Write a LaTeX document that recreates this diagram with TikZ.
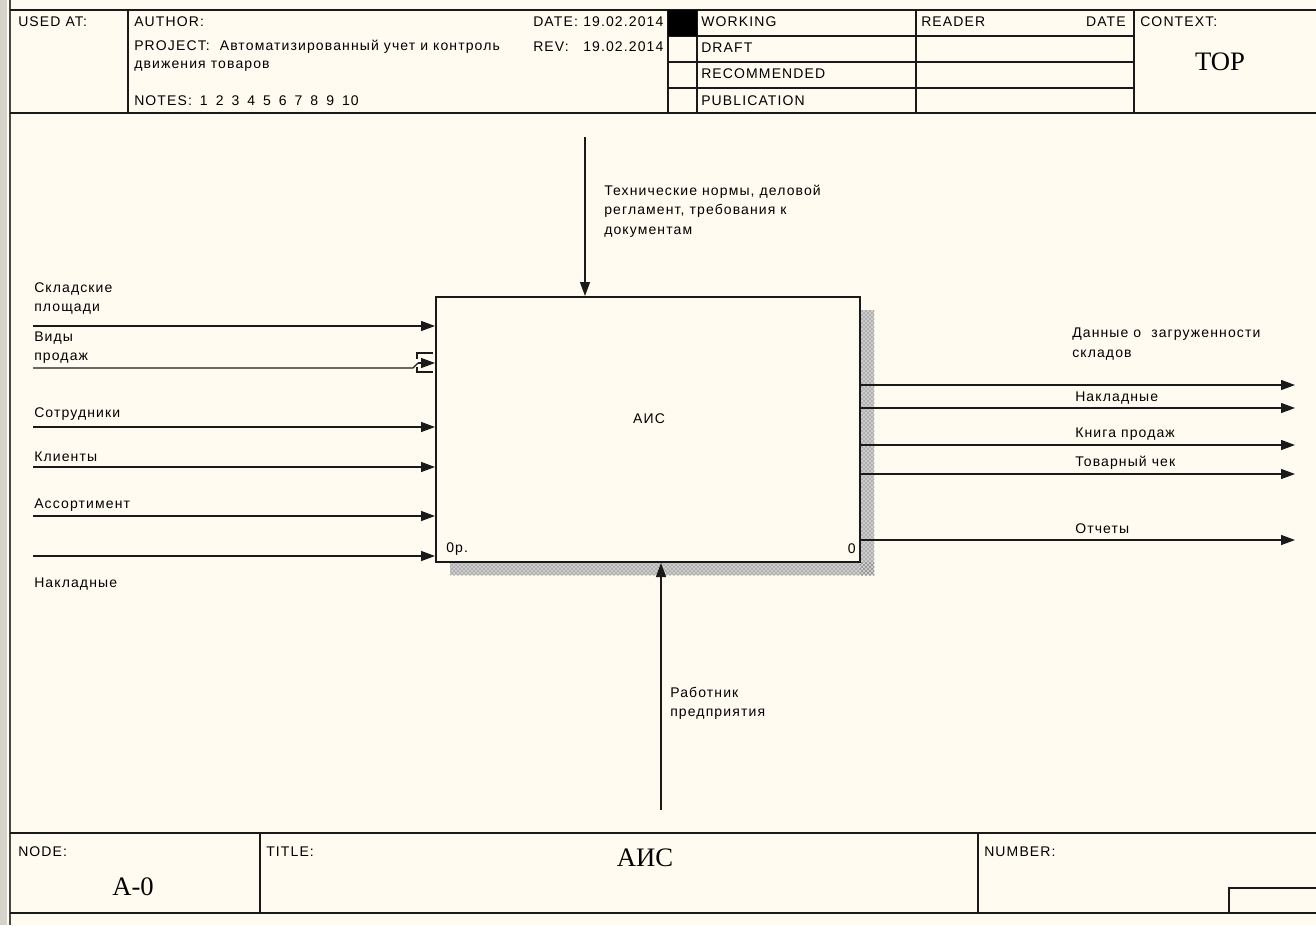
\documentclass[tikz,border=0pt]{standalone}
\usepackage{fontspec}
\setmainfont{Liberation Sans}
\newfontfamily\idefserif{Liberation Serif}
\newfontfamily\idefsans[LetterSpace=8]{Liberation Sans}
\usepackage{xcolor}
\usepackage{tikz}
\usetikzlibrary{arrows.meta, patterns, positioning}
\definecolor{idefPaper}{HTML}{FFFBF0}
\definecolor{idefRim}{HTML}{D6D3CA}
\definecolor{idefInk}{HTML}{1A1A1A}

\begin{document}
\begin{tikzpicture}[x=0.75pt, y=-0.75pt,
    frame/.style={draw=idefInk, line width=1pt},
    txt/.style={inner sep=0pt, anchor=west, align=left,
                font=\idefsans\fontsize{10.5}{14.5}\selectfont},
    big/.style={inner sep=0pt, font=\idefserif\fontsize{20}{24}\selectfont},
    flow/.style={draw=idefInk, line width=1pt, -{Triangle[length=10.5pt, width=7.5pt]}}]
    \useasboundingbox (0,0) rectangle (1316,925);
    % paper and left rim
    \fill[idefPaper] (0,0) rectangle (1316,925);
    \fill[idefRim] (0,0) rectangle (7,925);
    \draw[idefInk!80, line width=1.5pt] (10,0) -- (10,925);

    % header frame
    \draw[frame] (10,10) -- (1316,10);
    \draw[frame] (10,113) -- (1316,113);
    \foreach \x in {128,668,697,916,1134}
        \draw[frame] (\x,10) -- (\x,113);
    \foreach \y in {36,62,88}
        \draw[frame] (668,\y) -- (1134,\y);
    \fill[black] (668,10) rectangle (697,36);

    \node[txt] (usedat) at (18,22) {USED AT:};
    \node[txt] (author) at (134,22) {AUTHOR:};
    \node[txt] (project) at (134,47) {PROJECT:\ \ Автоматизированный учет и контроль};
    \node[txt] (projecttwo) at (134,66) {движения товаров};
    \node[txt] (notes) at (134,101) {NOTES:\hspace{6pt}1\hspace{6pt}2\hspace{6pt}3\hspace{6pt}4\hspace{6pt}5\hspace{6pt}6\hspace{6pt}7\hspace{6pt}8\hspace{6pt}9\hspace{6pt}10};
    \node[txt] (datekey) at (533,22) {DATE:};
    \node[txt] (dateval) at (583,22) {19.02.2014};
    \node[txt] (revkey) at (533,47) {REV:};
    \node[txt] (revval) at (583,47) {19.02.2014};
    \node[txt] (working) at (701,22) {WORKING};
    \node[txt] (draft) at (701,48) {DRAFT};
    \node[txt] (recommended) at (701,74) {RECOMMENDED};
    \node[txt] (publication) at (701,101) {PUBLICATION};
    \node[txt] (reader) at (921,22) {READER};
    \node[txt, anchor=east] (readerdate) at (1126,22) {DATE};
    \node[txt] (context) at (1140,22) {CONTEXT:};
    \node[big] (top) at (1220,62) {TOP};

    % footer frame
    \draw[frame] (10,833) -- (1316,833);
    \draw[frame] (10,913) -- (1316,913);
    \draw[frame] (260,833) -- (260,913);
    \draw[frame] (978,833) -- (978,913);
    \draw[frame] (1229,913) -- (1229,888) -- (1316,888);
    \node[txt] (nodekey) at (18,852) {NODE:};
    \node[txt] (titlekey) at (266,852) {TITLE:};
    \node[txt] (numberkey) at (984,852) {NUMBER:};
    \node[big] (nodeval) at (133,887) {А-0};
    \node[big] (titleval) at (645,858) {АИС};

    % activity box with shadow
    \fill[gray!40] (860,310) rectangle (874,575) (450,562) rectangle (874,575);
    \fill[pattern=crosshatch dots, pattern color=idefInk!75] (860,310) rectangle (874,575);
    \fill[pattern=crosshatch dots, pattern color=idefInk!75] (450,562) rectangle (874,575);
    \node[draw=idefInk, line width=1.5pt, minimum width=318pt, minimum height=198.75pt,
          inner sep=0pt] (ais) at (648,429.5) {};
    \node[txt, anchor=center] (aislbl) at (649,419) {АИС};
    \node[txt] (cost) at (446,549) {0р.};
    \node[txt, anchor=east] (boxno) at (856,549) {0};

    % inputs
    \foreach \name/\y in {inone/326, inthree/427, infour/467, infive/516, insix/556} {
        \coordinate (\name) at (33,\y);
        \draw[flow] (\name) -- (\name -| ais.west);
    }
    \coordinate (intwo) at (33,368);
    \coordinate (intwobend) at (413,368);
    \coordinate (intwotun) at (418,363);
    \draw[idefInk, line width=1pt] (intwo) -- (intwobend) -- (intwotun);
    \draw[flow] (intwotun) -- (intwotun -| ais.west);
    \draw[idefInk, line width=0.8pt] (417,359) -- (417,353) -- (433,353);
    \draw[idefInk, line width=0.8pt] (417,367) -- (417,372) -- (433,372);

    \node[txt] (lblone) at (34,298.5) {Складские\\площади};
    \node[txt] (lbltwo) at (34,347.5) {Виды\\продаж};
    \node[txt] (lblthree) at (34,414) {Сотрудники};
    \node[txt] (lblfour) at (34,457) {Клиенты};
    \node[txt] (lblfive) at (34,505) {Ассортимент};
    \node[txt] (lblsix) at (34,584) {Накладные};

    % outputs
    \foreach \name/\y in {outone/385, outtwo/408, outthree/445, outfour/474, outfive/540} {
        \coordinate (\name) at (1295,\y);
        \draw[flow] (\name -| ais.east) -- (\name);
    }
    \node[txt] (olblone) at (1072,344) {Данные о\ \ загруженности\\складов};
    \node[txt] (olbltwo) at (1075,398) {Накладные};
    \node[txt] (olblthree) at (1075,434) {Книга продаж};
    \node[txt] (olblfour) at (1075,463) {Товарный чек};
    \node[txt] (olblfive) at (1075,529) {Отчеты};

    % control and mechanism
    \coordinate (ctrl) at (585,137);
    \draw[flow] (ctrl) -- (ctrl |- ais.north);
    \node[txt] (ctrllbl) at (604,211) {Технические нормы, деловой\\регламент, требования к\\документам};
    \coordinate (mech) at (661,810);
    \draw[flow] (mech) -- (mech |- ais.south);
    \node[txt] (mechlbl) at (670,703) {Работник\\предприятия};
\end{tikzpicture}
\end{document}
